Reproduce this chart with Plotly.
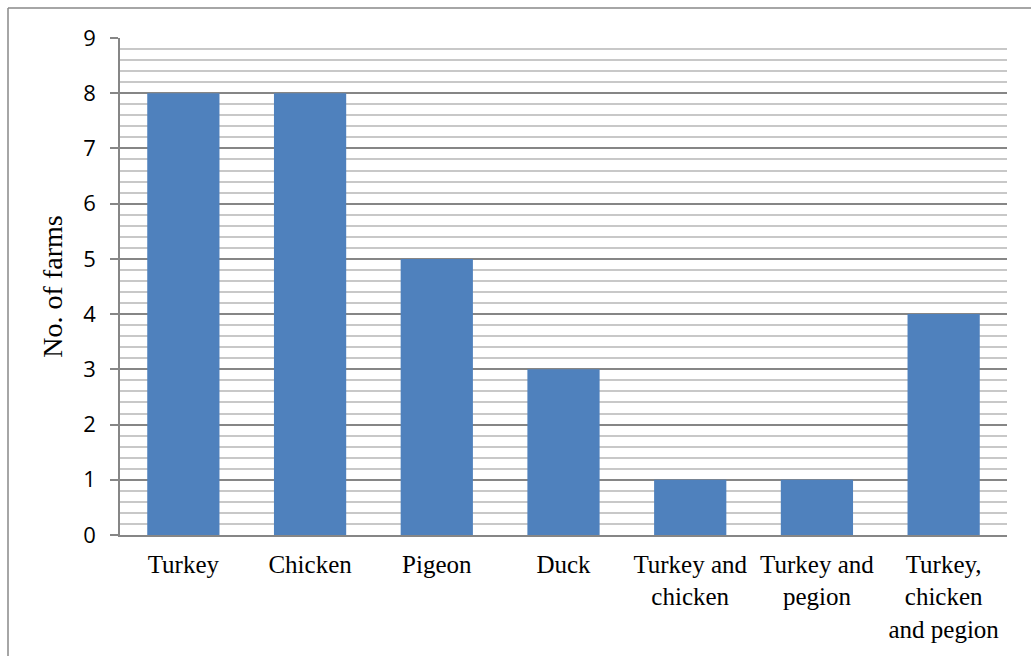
import plotly.graph_objects as go

# Farms keeping each bird species (or combination)
categories = ["Turkey", "Chicken", "Pigeon", "Duck",
              "Turkey and<br>chicken", "Turkey and<br>pegion",
              "Turkey,<br>chicken<br>and pegion"]
farms = [8, 8, 5, 3, 1, 1, 4]
y_ticks = list(range(0, 10))

fig = go.Figure(go.Bar(
    x=categories, y=farms,
    marker=dict(color="#4F81BD", line=dict(width=0)),
    width=0.57,
))

W, H = 1031, 656
L, R, T, B = 120, 24, 38, 121
pw, ph = W - L - R, H - T - B

fig.update_layout(
    width=W, height=H,
    margin=dict(l=L, r=R, t=T, b=B),
    paper_bgcolor="white", plot_bgcolor="white",
    showlegend=False,
    xaxis=dict(
        tickfont=dict(family="Liberation Serif", size=25, color="black"),
        showgrid=False, showline=True, linecolor="#868686", linewidth=1.5,
        ticks="", ticklabelstandoff=6,
    ),
    yaxis=dict(
        range=[0, 9], tickvals=y_ticks,
        tickfont=dict(family="Open Sans", size=22, color="black"),
        title=dict(text="No. of farms", font=dict(family="Liberation Serif", size=28, color="black"), standoff=12),
        showline=True, linecolor="#868686", linewidth=1.5,
        ticks="outside", ticklen=8, tickcolor="#868686", tickwidth=1.5,
        ticklabelstandoff=10,
        gridcolor="#868686", gridwidth=1.5,
        zeroline=False,
        minor=dict(dtick=0.2, showgrid=True, gridcolor="#c8c8c8", gridwidth=1.5, ticks=""),
    ),
    shapes=[
        # outer frame (top and left edges)
        dict(type="line", xref="paper", yref="paper",
             x0=(8 - L) / pw, x1=(W + 5 - L) / pw, y0=1 + (T - 8) / ph, y1=1 + (T - 8) / ph,
             line=dict(color="#888888", width=1.5)),
        dict(type="line", xref="paper", yref="paper",
             x0=(8 - L) / pw, x1=(8 - L) / pw, y0=1 + (T - 8) / ph, y1=-(B + 5) / ph,
             line=dict(color="#888888", width=1.5)),
        # base line extending under the tick marks
        dict(type="line", xref="paper", yref="paper",
             x0=-8 / pw, x1=0, y0=0, y1=0,
             line=dict(color="#868686", width=1.5)),
    ],
)

fig.write_html("out.html")
